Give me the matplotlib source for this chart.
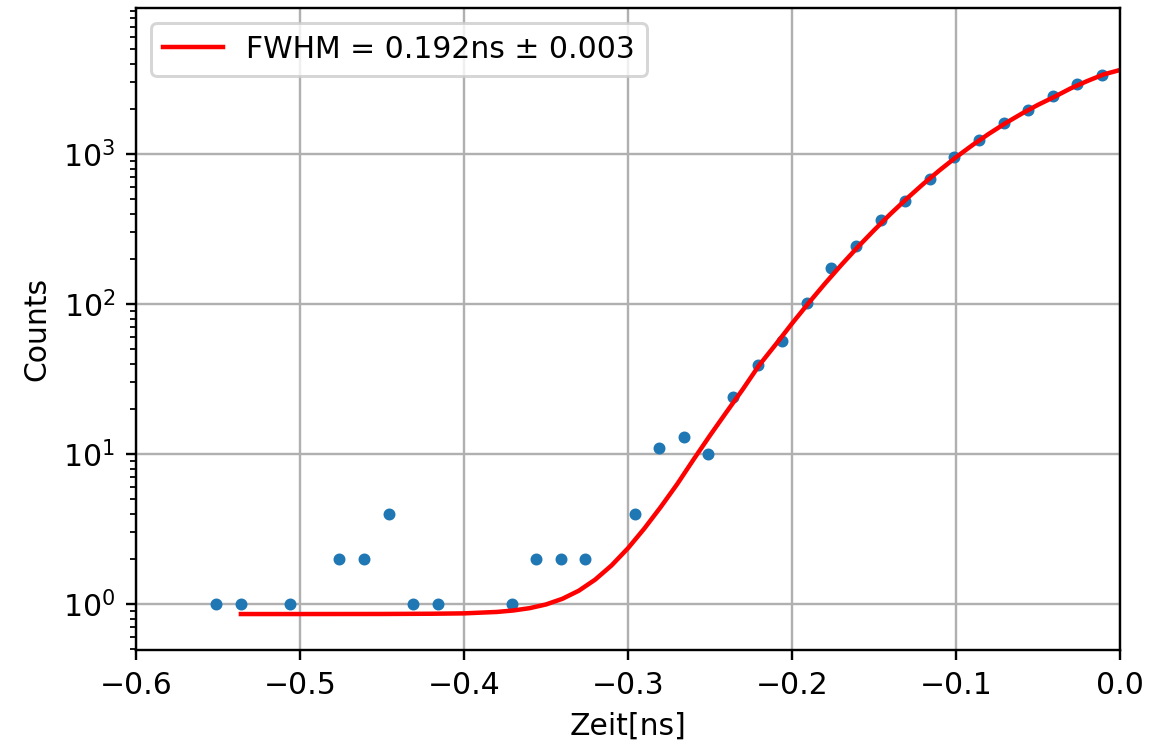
import matplotlib
matplotlib.use("Agg")
import matplotlib.pyplot as plt

# measured histogram (bins with zero counts are left out on the log axis)
zeit = [-0.551, -0.536, -0.506, -0.476, -0.461, -0.446, -0.431, -0.416,
        -0.371, -0.356, -0.341, -0.326, -0.296, -0.281, -0.266, -0.251,
        -0.236, -0.221, -0.206, -0.191, -0.176, -0.161, -0.146, -0.131,
        -0.116, -0.101, -0.086, -0.071, -0.056, -0.041, -0.026, -0.011]
counts = [1, 1, 1, 2, 2, 4, 1, 1,
          1, 2, 2, 2, 4, 11, 13, 10,
          24, 39, 57, 101, 174, 242, 363, 487,
          678, 952, 1240, 1605, 1955, 2440, 2925, 3380]

# fitted curve
fit_x = [-0.536, -0.50, -0.45, -0.42, -0.40, -0.38, -0.37, -0.36,
         -0.35, -0.34, -0.33, -0.32, -0.31, -0.30, -0.29, -0.28,
         -0.27, -0.26, -0.25, -0.24, -0.23, -0.22, -0.21, -0.20,
         -0.19, -0.18, -0.17, -0.16, -0.15, -0.14, -0.13, -0.12,
         -0.11, -0.10, -0.09, -0.08, -0.07, -0.06, -0.05, -0.04,
         -0.03, -0.02, -0.01, 0.0]
fit_y = [0.858, 0.858, 0.859, 0.862, 0.867, 0.886, 0.906, 0.939,
         0.994, 1.084, 1.227, 1.455, 1.81, 2.356, 3.19, 4.44,
         6.30, 9.2, 13.3, 19.0, 27.0, 39.1, 53.6, 74.1,
         101.1, 136.4, 181.7, 239, 310, 398, 504, 631,
         779, 951, 1145, 1362, 1600, 1855, 2126, 2404,
         2740, 3062, 3390, 3630]

fwhm_label = "FWHM = 0.192ns \u00b1 0.003"

fig = plt.figure(figsize=(1174 / 215, 740 / 215), dpi=215)
ax = fig.add_axes([0.1158, 0.1216, 0.8382, 0.8676])

ax.plot(zeit, counts, ".")
ax.plot(fit_x, fit_y, "r-", label=fwhm_label)

ax.set_yscale("log")
ax.set_xlim(-0.6, 0.0)
ax.set_ylim(0.494, 9400)
ax.set_xlabel("Zeit[ns]")
ax.set_ylabel("Counts")
ax.grid(True)
ax.legend(loc="upper left")

fig.savefig("out.png", dpi=215)
